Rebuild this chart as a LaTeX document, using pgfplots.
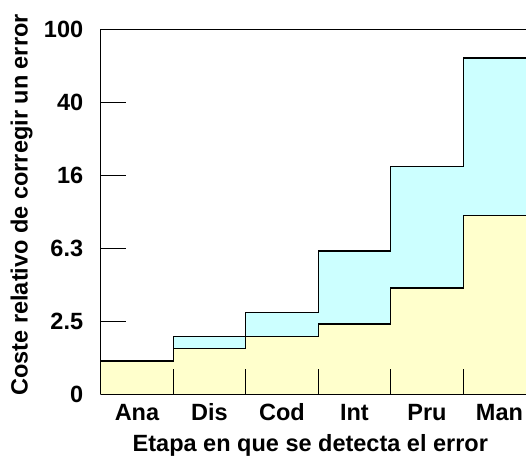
\documentclass[border=0pt]{standalone}
\usepackage{fontspec}
\setmainfont{Liberation Sans}
\usepackage{pgfplots}
\pgfplotsset{compat=1.18}
\definecolor{amarillo}{HTML}{FFFFCC}
\definecolor{celeste}{HTML}{CCFFFF}
\begin{document}
\begin{tikzpicture}
\begin{axis}[
    name=ax,
    scale only axis,
    width=425.3pt, height=365pt,
    xmin=0, xmax=5.866,
    ymode=log, log basis y=2.5,
    ymin=1, ymax=97.65625,
    axis lines*=left,
    axis on top,
    axis line style={line width=1.3pt},
    tick align=inside,
    major tick length=25pt,
    tick style={black, line width=1.3pt},
    font=\bfseries\fontsize{23.5}{27}\selectfont,
    ytick={1,2.5,6.25,15.625,39.0625,97.65625},
    yticklabels={0,2.5,6.3,16,40,100},
    yticklabel style={xshift=-14pt},
    xtick={1,2,3,4,5},
    xticklabels={},
    extra x ticks={0.5,1.5,2.5,3.5,4.5,5.5},
    extra x tick labels={Ana,Dis,Cod,Int,Pru,Man},
    extra x tick style={major tick length=0pt, xticklabel style={yshift=-6pt}},
    xlabel={Etapa en que se detecta el error},
    ylabel={Coste relativo de corregir un error},
    every axis x label/.style={at={(axis description cs:0.493,-0.139)}, anchor=center},
    every axis y label/.style={at={(axis description cs:-0.186,0.519)}, rotate=90, anchor=center},
    clip=true,
]
% coste total (celeste)
\addplot[sharp plot, fill=celeste, draw=black, line width=1.3pt]
  coordinates {(0,1.52) (1,1.52) (1,2.07) (2,2.07) (2,2.8) (3,2.8) (3,6.04)
               (4,6.04) (4,17.5) (5,17.5) (5,68) (6,68)} \closedcycle;
% coste base (amarillo)
\addplot[sharp plot, fill=amarillo, draw=black, line width=1.3pt]
  coordinates {(0,1.52) (1,1.52) (1,1.78) (2,1.78) (2,2.07) (3,2.07) (3,2.42)
               (4,2.42) (4,3.8) (5,3.8) (5,9.4) (6,9.4)} \closedcycle;
\draw[line width=1.3pt] (rel axis cs:0,1) -- (rel axis cs:1,1);
\end{axis}
\pgfresetboundingbox
\path ([xshift=-100.7pt,yshift=-60.7pt]ax.south west) rectangle ([yshift=29.3pt]ax.north east);
\end{tikzpicture}
\end{document}
